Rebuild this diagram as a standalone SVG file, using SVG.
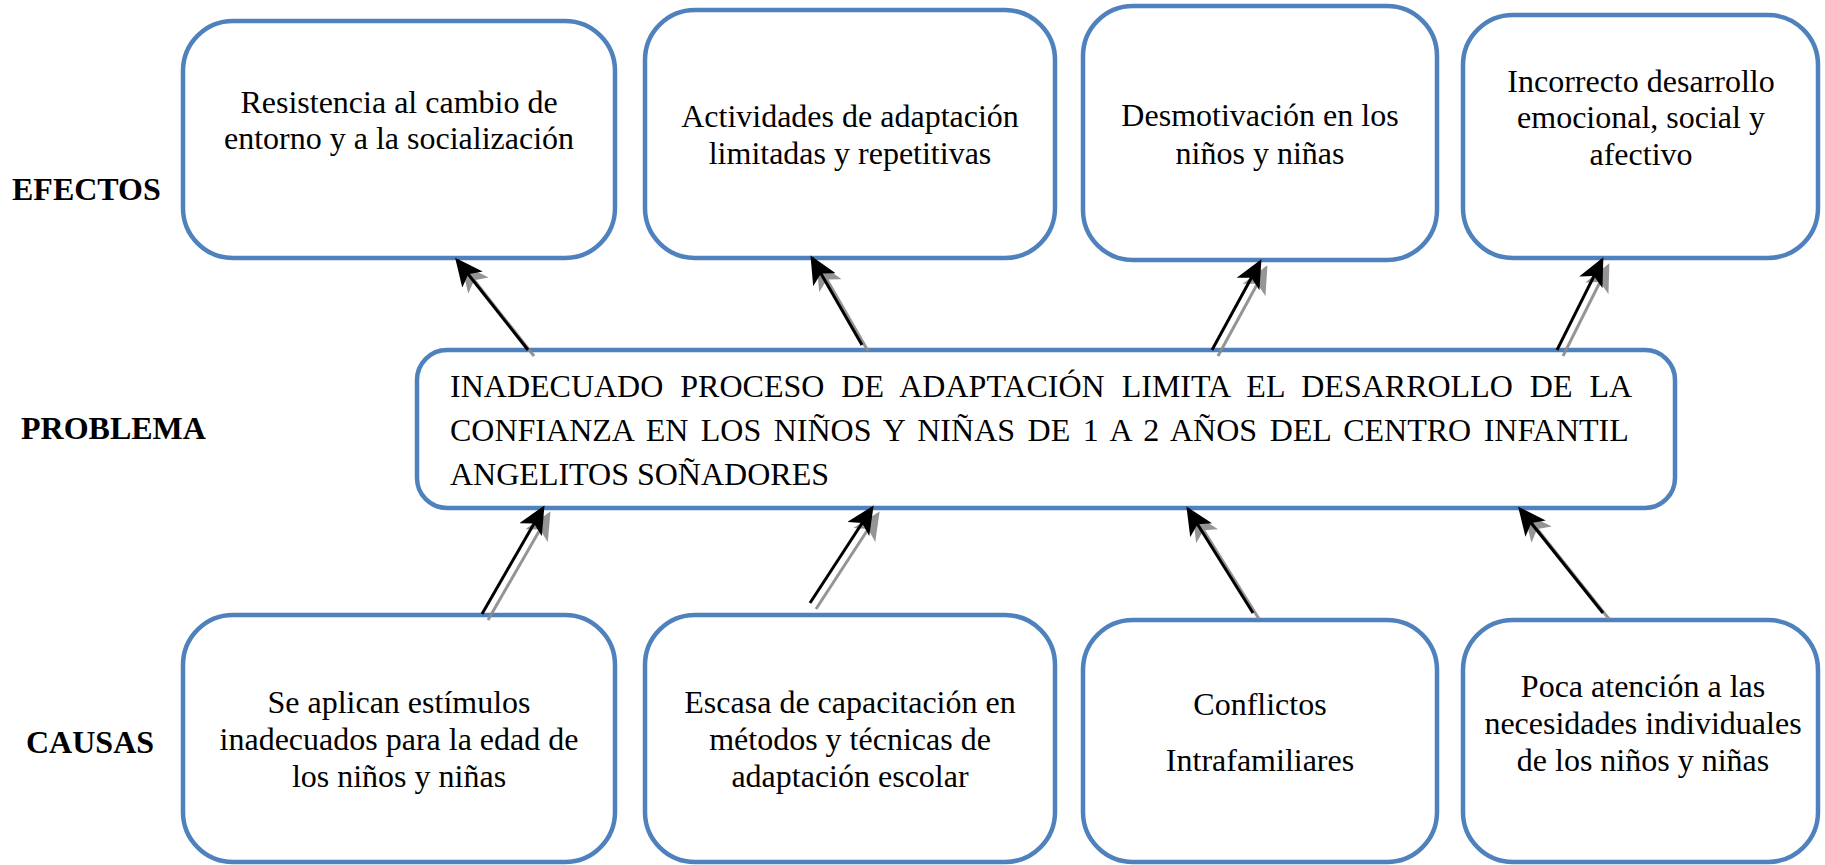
<svg xmlns="http://www.w3.org/2000/svg" width="1825" height="865" viewBox="0 0 1825 865">
<style>
.box{fill:#ffffff;stroke:#4F81BD;stroke-width:4.5}
.t{font-family:"Liberation Serif","Times New Roman",serif;font-size:32px;fill:#000;text-anchor:middle}
.p{font-family:"Liberation Serif","Times New Roman",serif;font-size:32px;fill:#000}
.lbl{font-family:"Liberation Serif","Times New Roman",serif;font-size:32px;font-weight:bold;fill:#000}
.ar{stroke:#000;stroke-width:3;fill:none;marker-end:url(#ah)}
.sh{stroke:#8a8a8a;stroke-width:3;fill:none;marker-end:url(#ahs);opacity:0.9}
</style>
<defs>
<marker id="ah" viewBox="0 0 28 26" refX="25" refY="13" markerWidth="28" markerHeight="26" markerUnits="userSpaceOnUse" orient="auto">
<path d="M0,0 L28,13 L0,26 L7,13 Z" fill="#000"/>
</marker>
<marker id="ahs" viewBox="0 0 28 26" refX="25" refY="13" markerWidth="28" markerHeight="26" markerUnits="userSpaceOnUse" orient="auto">
<path d="M0,0 L28,13 L0,26 L7,13 Z" fill="#8a8a8a"/>
</marker>
</defs>
<rect width="1825" height="865" fill="#ffffff"/>

<g id="labels">
<text class="lbl" x="12" y="200">EFECTOS</text>
<text class="lbl" x="21" y="439">PROBLEMA</text>
<text class="lbl" x="26" y="753">CAUSAS</text>
</g>

<g id="efecto1">
<rect class="box" x="183" y="21" width="432" height="237" rx="50" ry="50"/>
<text class="t" x="399" y="113">Resistencia al cambio de</text>
<text class="t" x="399" y="149">entorno y a la socialización</text>
</g>
<g id="efecto2">
<rect class="box" x="645" y="10" width="410" height="248" rx="50" ry="50"/>
<text class="t" x="850" y="127">Actividades de adaptación</text>
<text class="t" x="850" y="164">limitadas y repetitivas</text>
</g>
<g id="efecto3">
<rect class="box" x="1083" y="6" width="354" height="254" rx="50" ry="50"/>
<text class="t" x="1260" y="126">Desmotivación en los</text>
<text class="t" x="1260" y="164">niños y niñas</text>
</g>
<g id="efecto4">
<rect class="box" x="1463" y="15" width="355" height="243" rx="50" ry="50"/>
<text class="t" x="1641" y="92">Incorrecto desarrollo</text>
<text class="t" x="1641" y="128">emocional, social y</text>
<text class="t" x="1641" y="165">afectivo</text>
</g>

<g id="problema">
<rect class="box" x="417" y="350" width="1258" height="158" rx="30" ry="30"/>
<text class="p" x="450" y="397" word-spacing="9">INADECUADO PROCESO DE ADAPTACIÓN LIMITA EL DESARROLLO DE LA</text>
<text class="p" x="450" y="441" word-spacing="4.5">CONFIANZA EN LOS NIÑOS Y NIÑAS DE 1 A 2 AÑOS DEL CENTRO INFANTIL</text>
<text class="p" x="450" y="485">ANGELITOS SOÑADORES</text>
</g>

<g id="causa1">
<rect class="box" x="183" y="615" width="432" height="247" rx="50" ry="50"/>
<text class="t" x="399" y="713">Se aplican estímulos</text>
<text class="t" x="399" y="750">inadecuados para la edad de</text>
<text class="t" x="399" y="787">los niños y niñas</text>
</g>
<g id="causa2">
<rect class="box" x="645" y="615" width="410" height="247" rx="50" ry="50"/>
<text class="t" x="850" y="713">Escasa de capacitación en</text>
<text class="t" x="850" y="750">métodos y técnicas de</text>
<text class="t" x="850" y="787">adaptación escolar</text>
</g>
<g id="causa3">
<rect class="box" x="1083" y="620" width="354" height="242" rx="50" ry="50"/>
<text class="t" x="1260" y="715">Conflictos</text>
<text class="t" x="1260" y="771">Intrafamiliares</text>
</g>
<g id="causa4">
<rect class="box" x="1463" y="620" width="355" height="242" rx="50" ry="50"/>
<text class="t" x="1643" y="697">Poca atención a las</text>
<text class="t" x="1643" y="734">necesidades individuales</text>
<text class="t" x="1643" y="771">de los niños y niñas</text>
</g>

<g id="connectors">
<g transform="translate(6,6)">
<line class="sh" x1="528" y1="350" x2="457" y2="260"/>
<line class="sh" x1="862" y1="345" x2="812" y2="258"/>
<line class="sh" x1="1212" y1="350" x2="1260" y2="262"/>
<line class="sh" x1="1557" y1="350" x2="1602" y2="260"/>
<line class="sh" x1="482" y1="614" x2="543" y2="508"/>
<line class="sh" x1="810" y1="603" x2="872" y2="508"/>
<line class="sh" x1="1253" y1="613" x2="1188" y2="509"/>
<line class="sh" x1="1603" y1="613" x2="1520" y2="509"/>
</g>
<line class="ar" x1="528" y1="350" x2="457" y2="260"/>
<line class="ar" x1="862" y1="345" x2="812" y2="258"/>
<line class="ar" x1="1212" y1="350" x2="1260" y2="262"/>
<line class="ar" x1="1557" y1="350" x2="1602" y2="260"/>
<line class="ar" x1="482" y1="614" x2="543" y2="508"/>
<line class="ar" x1="810" y1="603" x2="872" y2="508"/>
<line class="ar" x1="1253" y1="613" x2="1188" y2="509"/>
<line class="ar" x1="1603" y1="613" x2="1520" y2="509"/>
</g>
</svg>
